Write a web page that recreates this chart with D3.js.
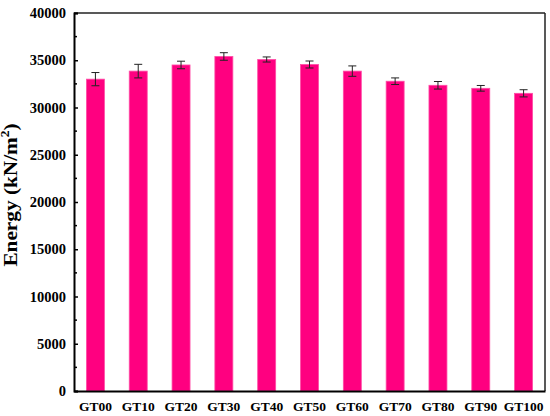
<!DOCTYPE html>
<html><head><meta charset="utf-8">
<script src="https://cdn.jsdelivr.net/npm/d3@7"></script>
<style>body{margin:0;background:#fff}svg{display:block}</style>
</head><body>
<script>
const categories = ["GT00","GT10","GT20","GT30","GT40","GT50","GT60","GT70","GT80","GT90","GT100"];
const energy = [33000, 33850, 34500, 35400, 35080, 34550, 33850, 32780, 32350, 32030, 31500];
const errors = [700, 720, 400, 400, 270, 370, 550, 350, 400, 300, 380];
const yTicks = [0,5000,10000,15000,20000,25000,30000,35000,40000];

const W = 550, H = 416;
const m = {left:74, right:5, top:13, bottom:25};
const svg = d3.select("body").append("svg").attr("width",W).attr("height",H);
const x = d3.scaleBand().domain(categories).range([m.left, W-m.right]).paddingInner(0.58).paddingOuter(0.29);
const y = d3.scaleLinear().domain([0,40000]).range([H-m.bottom, m.top]);
const font = "'Liberation Serif','Times New Roman',serif";

// bars
svg.append("g").selectAll("rect").data(categories).join("rect")
  .attr("x", d=>x(d)).attr("width", x.bandwidth())
  .attr("y", (d,i)=>y(energy[i])).attr("height", (d,i)=>y(0)-y(energy[i]))
  .attr("fill","#ff0080").attr("stroke","#ff4da6").attr("stroke-width",0.8);

// error bars
const eg = svg.append("g").attr("stroke","#222").attr("stroke-width",1);
categories.forEach((c,i)=>{
  const cx = x(c)+x.bandwidth()/2;
  eg.append("line").attr("x1",cx).attr("x2",cx).attr("y1",y(energy[i]+errors[i])).attr("y2",y(energy[i]-errors[i]));
  eg.append("line").attr("x1",cx-4).attr("x2",cx+4).attr("y1",y(energy[i]+errors[i])).attr("y2",y(energy[i]+errors[i]));
  eg.append("line").attr("x1",cx-4).attr("x2",cx+4).attr("y1",y(energy[i]-errors[i])).attr("y2",y(energy[i]-errors[i]));
});

// frame top/right
svg.append("line").attr("x1",m.left).attr("x2",W-m.right).attr("y1",m.top).attr("y2",m.top).attr("stroke","#222").attr("stroke-width",1.5);
svg.append("line").attr("x1",W-m.right).attr("x2",W-m.right).attr("y1",m.top).attr("y2",H-m.bottom).attr("stroke","#222").attr("stroke-width",1.5);

// y axis
const yAxis = d3.axisLeft(y).tickValues(yTicks).tickSize(-4).tickPadding(8).tickFormat(d3.format("d"));
const ya = svg.append("g").attr("transform",`translate(${m.left},0)`).call(yAxis);
ya.select(".domain").attr("stroke","#000").attr("stroke-width",2);
ya.selectAll(".tick line").attr("stroke","#000").attr("stroke-width",1.5);
ya.selectAll(".tick text").attr("font-family",font).attr("font-weight","bold").attr("font-size",14.5).attr("fill","#000");
// minor ticks
const minor = d3.range(2500,40000,5000);
svg.append("g").selectAll("line").data(minor).join("line")
  .attr("x1",m.left).attr("x2",m.left+3).attr("y1",d=>y(d)).attr("y2",d=>y(d))
  .attr("stroke","#000").attr("stroke-width",1.5);

// x axis
const xAxis = d3.axisBottom(x).tickSize(0).tickPadding(10);
const xa = svg.append("g").attr("transform",`translate(0,${H-m.bottom})`).call(xAxis);
xa.select(".domain").attr("stroke","#000").attr("stroke-width",2);
xa.selectAll(".tick text").attr("font-family",font).attr("font-weight","bold").attr("font-size",13.5).attr("fill","#000");

// y label
const lab = svg.append("text").attr("transform",`translate(17,195) rotate(-90) scale(1.12,1)`)
  .attr("text-anchor","middle").attr("font-family",font).attr("font-weight","bold").attr("font-size",19).attr("fill","#000");
lab.append("tspan").text("Energy (kN/m");
lab.append("tspan").attr("font-size",12).attr("dy",-8).text("2");
lab.append("tspan").attr("dy",8).text(")");
</script>
</body></html>
